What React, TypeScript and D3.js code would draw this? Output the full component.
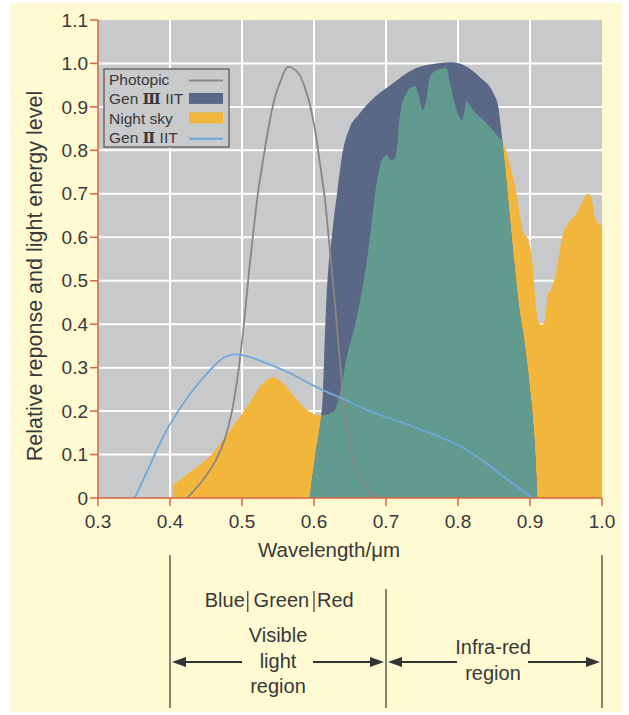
import * as d3 from "d3";
import React from "react";

// tick values
const xTicks = [0.3, 0.4, 0.5, 0.6, 0.7, 0.8, 0.9, 1.0];
const yTicks = [0, 0.1, 0.2, 0.3, 0.4, 0.5, 0.6, 0.7, 0.8, 0.9, 1.0, 1.1];

// [wavelength um, relative level]
const nightSky: [number, number][] = [
  [0.404, 0.03], [0.428, 0.06], [0.456, 0.097], [0.483, 0.155], [0.511, 0.22],
  [0.529, 0.264], [0.543, 0.278], [0.557, 0.264], [0.576, 0.226], [0.594, 0.198],
  [0.608, 0.19], [0.627, 0.198], [0.636, 0.24], [0.645, 0.32], [0.66, 0.42],
  [0.675, 0.565], [0.687, 0.724], [0.694, 0.778], [0.701, 0.789], [0.707, 0.778],
  [0.7125, 0.782], [0.715, 0.8], [0.719, 0.877], [0.728, 0.931], [0.74, 0.948],
  [0.745, 0.93], [0.751, 0.893], [0.756, 0.916], [0.761, 0.97], [0.771, 0.985],
  [0.784, 0.989], [0.789, 0.954], [0.798, 0.893], [0.806, 0.87], [0.812, 0.912],
  [0.821, 0.893], [0.84, 0.862], [0.858, 0.828], [0.862, 0.82], [0.872, 0.77],
  [0.882, 0.693], [0.891, 0.61], [0.896, 0.6], [0.903, 0.548], [0.907, 0.463],
  [0.911, 0.41], [0.916, 0.398], [0.921, 0.41], [0.925, 0.472], [0.929, 0.479],
  [0.937, 0.525], [0.944, 0.594], [0.947, 0.612], [0.965, 0.656], [0.981, 0.7],
  [0.986, 0.686], [0.99, 0.647], [1.0, 0.626],
];

const gen3: [number, number][] = [
  [0.594, 0], [0.602, 0.1], [0.61, 0.19], [0.612, 0.23], [0.614, 0.32],
  [0.617, 0.45], [0.62, 0.53], [0.624, 0.59], [0.628, 0.65], [0.632, 0.7],
  [0.638, 0.778], [0.65, 0.854], [0.661, 0.88], [0.68, 0.916], [0.706, 0.95],
  [0.743, 0.99], [0.77, 1.0], [0.792, 1.003], [0.807, 0.997], [0.83, 0.969],
  [0.849, 0.932], [0.856, 0.9], [0.859, 0.86], [0.861, 0.83], [0.866, 0.75],
  [0.87, 0.68], [0.877, 0.56], [0.884, 0.45], [0.893, 0.35], [0.9, 0.25],
  [0.905, 0.16], [0.908, 0.08], [0.91, 0],
];

const photopic: [number, number][] = [
  [0.424, 0], [0.446, 0.042], [0.463, 0.085], [0.476, 0.135], [0.486, 0.2],
  [0.494, 0.28], [0.5, 0.36], [0.505, 0.44], [0.51, 0.525], [0.516, 0.615],
  [0.522, 0.7], [0.529, 0.775], [0.536, 0.845], [0.544, 0.91], [0.553, 0.957],
  [0.564, 0.992], [0.578, 0.978], [0.592, 0.92], [0.601, 0.85], [0.608, 0.773],
  [0.615, 0.69], [0.621, 0.589], [0.629, 0.45], [0.638, 0.28], [0.647, 0.15],
  [0.656, 0.075], [0.668, 0.033], [0.68, 0.011], [0.692, 0],
];

const gen2: [number, number][] = [
  [0.351, 0], [0.369, 0.064], [0.385, 0.122], [0.4, 0.17], [0.428, 0.24],
  [0.456, 0.295], [0.474, 0.322], [0.486, 0.33], [0.507, 0.326], [0.539, 0.307],
  [0.567, 0.287], [0.6, 0.258], [0.64, 0.228], [0.678, 0.2], [0.72, 0.175],
  [0.76, 0.15], [0.8, 0.122], [0.835, 0.085], [0.868, 0.043], [0.904, 0],
];

const legendItems = [
  { label: [], name: "Photopic", kind: "line", color: "#8b8682" },
  { label: ["Gen ", "\u2162", " IIT"], name: "", kind: "rect", color: "#5a6886" },
  { label: [], name: "Night sky", kind: "rect", color: "#f2b63c" },
  { label: ["Gen ", "\u2161", " IIT"], name: "", kind: "line", color: "#6fa8dc" },
];

const FONT = "'Liberation Sans', Arial, Helvetica, sans-serif";
const TXT = "#383838";
const AXIS = "#d8653f";

export default function App() {
  const W = 629, H = 715;
  const x = d3.scaleLinear().domain([0.3, 1.0]).range([98, 602]);
  const y = d3.scaleLinear().domain([0, 1.1]).range([498, 20]);

  const area = d3.area<[number, number]>()
    .x(d => x(d[0])).y0(y(0)).y1(d => y(d[1]))
    .curve(d3.curveMonotoneX);
  const line = d3.line<[number, number]>()
    .x(d => x(d[0])).y(d => y(d[1]))
    .curve(d3.curveCatmullRom.alpha(0.5));

  const [x0, x1] = x.range();
  const [yb, yt] = y.range();

  // annotation geometry from wavelengths
  const arrowY = 662;
  const arrows = [
    { tip: x(0.4) + 2, tail: x(0.5) },
    { tip: x(0.7) - 2, tail: x(0.6) - 1 },
    { tip: x(0.7) + 2, tail: x(0.8) - 1 },
    { tip: x(1.0) - 2, tail: x(0.9) - 2 },
  ];
  const head = (tip: number, dir: number) =>
    `M${tip},${arrowY} L${tip + dir * 14},${arrowY - 5} L${tip + dir * 14},${arrowY + 5} Z`;

  const lg = { x: 104, y: 69, w: 125, h: 78 };

  return (
    <svg width={W} height={H} style={{ position: "absolute", left: 0, top: 0 }} fontFamily={FONT}>
      <rect x={0} y={0} width={W} height={H} fill="#fff" />
      <rect x={11} y={3} width={611} height={709} fill="#fffad2" />

      <defs>
        <clipPath id="gen3clip">
          <path d={area(gen3) || ""} />
        </clipPath>
      </defs>

      {/* plot background and grid */}
      <rect x={x0} y={yt} width={x1 - x0} height={yb - yt} fill="#c8c9cb" />
      {xTicks.slice(1, -1).map(t => (
        <line key={"gx" + t} x1={x(t)} x2={x(t)} y1={yt} y2={yb} stroke="#fff" strokeWidth={2} />
      ))}
      {yTicks.slice(1, -1).map(t => (
        <line key={"gy" + t} x1={x0} x2={x1} y1={y(t)} y2={y(t)} stroke="#fff" strokeWidth={2} />
      ))}

      {/* areas */}
      <path d={area(nightSky) || ""} fill="#f2b63c" />
      <path d={area(gen3) || ""} fill="#5a6886" />
      <path d={area(nightSky) || ""} fill="#619a8f" clipPath="url(#gen3clip)" />

      {/* lines */}
      <path d={line(photopic) || ""} fill="none" stroke="#8b8682" strokeWidth={1.8} />
      <path d={line(gen2) || ""} fill="none" stroke="#6fa8dc" strokeWidth={1.8} />

      {/* legend */}
      <rect x={lg.x} y={lg.y} width={lg.w} height={lg.h} fill="#c9cacc" stroke="#5a5a5a" strokeWidth={1.3} />
      {legendItems.map((it, i) => {
        const by = 85 + i * 19.4;
        const sx = 189, sw = 34;
        return (
          <g key={i}>
            <text x={109} y={by} fontSize={15.5} fill={TXT}>
              {it.name ? it.name : (
                <>
                  {it.label[0]}
                  <tspan fontFamily="'DejaVu Serif', serif" fontWeight="bold" fontSize={15}>{it.label[1]}</tspan>
                  {it.label[2]}
                </>
              )}
            </text>
            {it.kind === "line" ? (
              <line x1={sx} x2={sx + sw} y1={by - 4.5} y2={by - 4.5} stroke={it.color} strokeWidth={2} />
            ) : (
              <rect x={sx} y={by - 11.5} width={sw} height={11} fill={it.color} />
            )}
          </g>
        );
      })}

      {/* axes */}
      <line x1={x0} x2={x0} y1={yt} y2={yb} stroke={AXIS} strokeWidth={1.5} />
      <line x1={x0} x2={x1} y1={yb} y2={yb} stroke={AXIS} strokeWidth={1.5} />
      {yTicks.map(t => (
        <g key={"ty" + t}>
          <line x1={x0 - 8} x2={x0} y1={y(t)} y2={y(t)} stroke={AXIS} strokeWidth={1.5} />
          <text x={x0 - 10} y={y(t)} dy="0.35em" textAnchor="end" fontSize={19} fill={TXT}>
            {t === 0 ? "0" : t.toFixed(1)}
          </text>
        </g>
      ))}
      {xTicks.map(t => (
        <g key={"tx" + t}>
          <line x1={x(t)} x2={x(t)} y1={yb} y2={yb + 8} stroke={AXIS} strokeWidth={1.5} />
          <text x={x(t)} y={528} textAnchor="middle" fontSize={19} fill={TXT}>
            {t.toFixed(1)}
          </text>
        </g>
      ))}
      <text transform="translate(42,276) rotate(-90)" textAnchor="middle" fontSize={21.5} fill={TXT}>
        Relative reponse and light energy level
      </text>
      <text x={329} y={557} textAnchor="middle" fontSize={20.5} fill={TXT}>Wavelength/μm</text>

      {/* region annotations */}
      <g stroke="#444" strokeWidth={1.3}>
        <line x1={x(0.4)} x2={x(0.4)} y1={555} y2={708} />
        <line x1={x(0.7)} x2={x(0.7)} y1={589} y2={708} />
        <line x1={x(1.0)} x2={x(1.0)} y1={555} y2={708} />
        <line x1={x(0.508)} x2={x(0.508)} y1={591} y2={612} />
        <line x1={x(0.6)} x2={x(0.6)} y1={591} y2={612} />
      </g>
      <text x={x(0.508) - 3} y={607} textAnchor="end" fontSize={20} fill={TXT}>Blue</text>
      <text x={(x(0.508) + x(0.6)) / 2 + 0.5} y={607} textAnchor="middle" fontSize={20} fill={TXT}>Green</text>
      <text x={x(0.6) + 3} y={607} textAnchor="start" fontSize={20} fill={TXT}>Red</text>

      {arrows.map((a, i) => {
        const dir = a.tail > a.tip ? 1 : -1;
        return (
          <g key={"ar" + i}>
            <line x1={a.tip + dir * 12} x2={a.tail} y1={arrowY} y2={arrowY} stroke="#333" strokeWidth={2.2} />
            <path d={head(a.tip, dir)} fill="#333" />
          </g>
        );
      })}
      <g fontSize={20} fill={TXT} textAnchor="middle">
        <text x={278} y={642}>Visible</text>
        <text x={278} y={668}>light</text>
        <text x={278} y={693}>region</text>
        <text x={493} y={654}>Infra-red</text>
        <text x={493} y={680}>region</text>
      </g>
    </svg>
  );
}
